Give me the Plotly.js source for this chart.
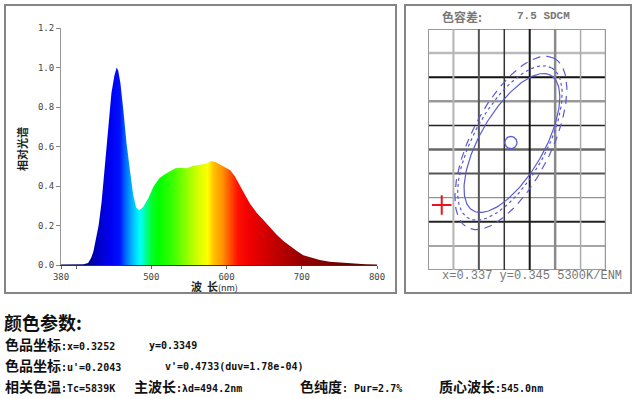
<!DOCTYPE html>
<html>
<head>
<meta charset="utf-8">
<script src="https://cdn.plot.ly/plotly-3.0.1.min.js"></script>
<style>
  html, body { margin: 0; padding: 0; background: #fff; }
  #chart { width: 642px; height: 399px; }
</style>
</head>
<body>
<div id="chart"></div>
<script>
// ---------------- Spectrum data (relative spectral power) ----------------
const wavelengths = [380, 400, 410, 416, 420, 423, 426, 430, 434, 438, 443, 447, 451, 454, 456, 459, 463, 467, 472, 476, 480, 484, 489, 496, 503, 511, 518, 525, 532, 540, 547, 556, 565, 574, 580, 586, 591, 598, 605, 611, 618, 624, 631, 640, 649, 658, 667, 676, 685, 694, 702, 713, 724, 737, 751, 770, 785, 800];
const relPower =    [0.003, 0.003, 0.004, 0.01, 0.035, 0.067, 0.12, 0.2, 0.32, 0.49, 0.71, 0.87, 0.96, 1.0, 0.985, 0.92, 0.78, 0.62, 0.47, 0.355, 0.29, 0.277, 0.293, 0.338, 0.397, 0.44, 0.46, 0.475, 0.49, 0.493, 0.49, 0.503, 0.507, 0.515, 0.527, 0.52, 0.51, 0.495, 0.48, 0.45, 0.405, 0.36, 0.312, 0.265, 0.228, 0.19, 0.152, 0.12, 0.093, 0.07, 0.05, 0.036, 0.025, 0.017, 0.012, 0.007, 0.004, 0.002];

const xTickVals = [380, 400, 500, 600, 700, 800];
const xTickText = ['380', '', '500', '600', '700', '800'];
const yTickVals = [0, 0.2, 0.4, 0.6, 0.8, 1.0, 1.2];
const yTickText = ['0.0', '0.2', '0.4', '0.6', '0.8', '1.0', '1.2'];

// spectral colour stops (wavelength -> colour)
const colorWl =  [380, 415, 430, 445, 458, 465, 472, 480, 485, 492, 500, 510, 530, 550, 565, 575, 583, 595, 605, 615, 630, 660, 700, 750, 800];
const colorHex = ['#000040', '#00008c', '#0000c8', '#0000f0', '#0010ff', '#0060ff', '#00a0ff', '#00e0ff', '#00ffff', '#00ffa0', '#00ff30', '#00ff00', '#40ff00', '#a0ff00', '#e0ff00', '#ffff00', '#ffc000', '#ff9000', '#ff5000', '#ff1000', '#f00000', '#c80000', '#960000', '#700000', '#500000'];

// ---------------- Colour-tolerance (SDCM) panel data ----------------
// ellipse parameters in grid-cell units
const ellCenterX   = [3.30, 3.22, 3.26];
const ellCenterY   = [5.27, 5.27, 5.27];
const ellSemiMajor = [3.07, 3.38, 3.74];
const ellSemiMinor = [1.26, 1.42, 1.57];
const ellAngleDeg  = [60, 61, 63];
const ellDash      = ['solid', '3px,3px', '8px,6px'];
const targetCircle = {x: 3.26, y: 5.29, r: 0.24};
const measuredPoint = {x: [0.54], y: [2.70]};

const sdcmTitleCn = '色容差:';
const sdcmTitleVal = '7.5 SDCM';
const sdcmFooter = 'x=0.337 y=0.345 5300K/ENM';

// ---------------- Text block ----------------
const paramHeader = '颜色参数:';
const paramLines = [
  [{cn: '色品坐标', txt: ':x=0.3252', px: 3}, {cn: '', txt: 'y=0.3349', px: 147}],
  [{cn: '色品坐标', txt: ":u'=0.2043", px: 3}, {cn: '', txt: "v'=0.4733(duv=1.78e-04)", px: 163}],
  [{cn: '相关色温', txt: ':Tc=5839K', px: 3}, {cn: '主波长', txt: ':λd=494.2nm', px: 132},
   {cn: '色纯度', txt: ': Pur=2.7%', px: 298}, {cn: '质心波长', txt: ':545.0nm', px: 437}]
];
const paramLineY = [345, 366, 387];

// ---------------- Build ----------------
const W = 642, H = 399;
const px2x = p => p / W;
const px2y = p => 1 - p / H;

const colorscale = colorWl.map((w, i) => [(w - 380) / 420, colorHex[i]]);

const traces = [];
traces.push({
  type: 'scatter', mode: 'lines', x: wavelengths, y: relPower,
  fill: 'tozeroy', line: {width: 0, color: 'rgba(0,0,0,0)'},
  fillgradient: {type: 'horizontal', start: 380, stop: 800, colorscale: colorscale},
  xaxis: 'x', yaxis: 'y', hoverinfo: 'skip', showlegend: false
});

const cellRatio = (606 - 428) / 7 / ((270 - 29) / 10);
function ellipsePts(cx, cy, a, b, angDeg) {
  const th = angDeg * Math.PI / 180, xs = [], ys = [];
  for (let i = 0; i <= 180; i++) {
    const t = 2 * Math.PI * i / 180;
    xs.push(cx + a * Math.cos(th) * Math.cos(t) - b * Math.sin(th) * Math.sin(t));
    ys.push(cy + (a * Math.sin(th) * Math.cos(t) + b * Math.cos(th) * Math.sin(t)) * cellRatio);
  }
  return {xs, ys};
}
for (let k = 0; k < ellCenterX.length; k++) {
  const e = ellipsePts(ellCenterX[k], ellCenterY[k], ellSemiMajor[k], ellSemiMinor[k], ellAngleDeg[k]);
  traces.push({type: 'scatter', mode: 'lines', x: e.xs, y: e.ys, xaxis: 'x2', yaxis: 'y2',
    line: {color: '#5a5ad2', width: 1.2, dash: ellDash[k]}, hoverinfo: 'skip', showlegend: false});
}
const c = ellipsePts(targetCircle.x, targetCircle.y, targetCircle.r, targetCircle.r, 0);
traces.push({type: 'scatter', mode: 'lines', x: c.xs, y: c.ys, xaxis: 'x2', yaxis: 'y2',
  line: {color: '#5a5ad2', width: 1.3}, hoverinfo: 'skip', showlegend: false});
traces.push({type: 'scatter', mode: 'markers', x: measuredPoint.x, y: measuredPoint.y, xaxis: 'x2', yaxis: 'y2',
  marker: {symbol: 'cross-thin', size: 14, line: {color: '#e8141e', width: 2}}, hoverinfo: 'skip', showlegend: false});

// grid lines of the SDCM panel
const vLineColor = ['#999', '#b4b4b4', '#555', '#333', '#1a1a1a', '#8a8a8a', '#aaa', '#999'];
const vLineWidth = [2, 2, 2, 1.5, 2, 2.5, 1.5, 2.5];
const hLineColor = ['#999', '#888', '#222', '#777', '#555', '#666', '#222', '#999', '#111', '#bbb', '#999'];
const hLineWidth = [2, 1.5, 2, 1, 2, 2.5, 1.5, 2.5, 2, 2.5, 2];

const shapes = [];
for (let i = 0; i <= 10; i++) {
  shapes.push({type: 'line', xref: 'x2', yref: 'y2', x0: 0, x1: 7, y0: i, y1: i, layer: 'below',
    line: {color: hLineColor[i], width: hLineWidth[i]}});
}
for (let i = 0; i <= 7; i++) {
  shapes.push({type: 'line', xref: 'x2', yref: 'y2', x0: i, x1: i, y0: 0, y1: 10, layer: 'below',
    line: {color: vLineColor[i], width: vLineWidth[i]}});
}
// panel frames
shapes.push({type: 'rect', xref: 'paper', yref: 'paper', x0: px2x(5), x1: px2x(396), y0: px2y(293), y1: px2y(5),
  line: {color: '#858585', width: 2}});
shapes.push({type: 'rect', xref: 'paper', yref: 'paper', x0: px2x(405), x1: px2x(631), y0: px2y(293), y1: px2y(5),
  line: {color: '#858585', width: 2}});

const monoCJK = '"DejaVu Sans Mono", "Noto Sans CJK SC", monospace';
const annotations = [];
function ann(text, x, y, opts) {
  annotations.push(Object.assign({text: text, xref: 'paper', yref: 'paper', x: px2x(x), y: px2y(y),
    xanchor: 'left', yanchor: 'middle', showarrow: false,
    font: {family: monoCJK, size: 10, color: '#111', weight: 'bold'}}, opts || {}));
}
// axis titles of spectrum
ann('相对光谱', 22, 149, {xanchor: 'center', textangle: -90,
  font: {family: '"Noto Sans CJK SC"', size: 11, color: '#222', weight: 'bold'}});
ann('波&nbsp;&nbsp;长<span style="font-size:9px;font-weight:normal">(nm)</span>', 189, 286,
  {font: {family: '"Noto Sans CJK SC"', size: 11, color: '#222', weight: 'bold'}});
// SDCM panel texts
ann(sdcmTitleCn, 440, 16, {font: {family: '"Noto Sans CJK SC"', size: 12, color: '#777', weight: 'bold'}});
ann(sdcmTitleVal, 515, 16, {font: {family: '"Liberation Mono", monospace', size: 11, color: '#777', weight: 'bold'}});
ann(sdcmFooter, 440, 276, {font: {family: '"Liberation Mono", monospace', size: 12, color: '#777'}});
// parameter block
ann(paramHeader, 2, 322, {font: {family: '"Noto Sans CJK SC"', size: 18, color: '#111', weight: 'bold'}});
paramLines.forEach((segs, li) => {
  segs.forEach(s => {
    const t = (s.cn ? '<span style="font-size:14px">' + s.cn + '</span>' : '') + s.txt;
    ann(t, s.px, paramLineY[li]);
  });
});

const tickFont = {family: '"DejaVu Sans Mono", monospace', size: 9, color: '#444'};
const layout = {
  width: W, height: H,
  margin: {l: 0, r: 0, t: 0, b: 0},
  paper_bgcolor: '#fff', plot_bgcolor: 'rgba(0,0,0,0)',
  showlegend: false,
  xaxis: {domain: [px2x(61), px2x(377)], range: [380, 800], tickmode: 'array',
    tickvals: xTickVals, ticktext: xTickText, ticks: 'outside', ticklen: 3, tickcolor: '#666',
    showline: true, linecolor: '#333', linewidth: 1, showgrid: false, zeroline: false,
    tickfont: tickFont, anchor: 'y'},
  yaxis: {domain: [px2y(265), px2y(28)], range: [0, 1.2], tickmode: 'array',
    tickvals: yTickVals, ticktext: yTickText, ticks: 'outside', ticklen: 4, tickcolor: '#888',
    showline: true, linecolor: '#999', linewidth: 1, showgrid: false, zeroline: false,
    tickfont: tickFont, anchor: 'x'},
  xaxis2: {domain: [px2x(428), px2x(606)], range: [0, 7], showgrid: false, zeroline: false,
    showticklabels: false, ticks: '', showline: false, anchor: 'y2'},
  yaxis2: {domain: [px2y(270), px2y(29)], range: [0, 10], showgrid: false, zeroline: false,
    showticklabels: false, ticks: '', showline: false, anchor: 'x2'},
  shapes: shapes,
  annotations: annotations
};

Plotly.newPlot('chart', traces, layout, {staticPlot: true, displayModeBar: false});
</script>
</body>
</html>
